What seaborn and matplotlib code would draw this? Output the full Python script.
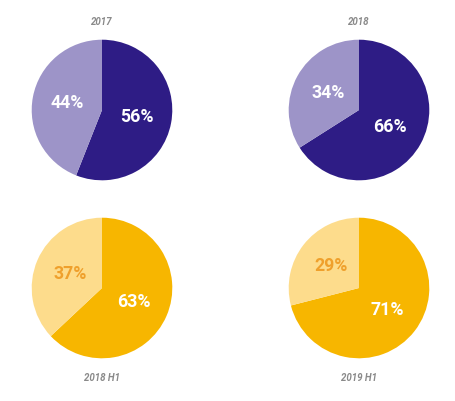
import matplotlib
matplotlib.use('Agg')
import matplotlib.pyplot as plt
import seaborn as sns

sns.set_theme(style='white')
plt.rcParams['font.family'] = ['Roboto', 'DejaVu Sans']

# Données
titles = ['2017', '2018', '2018 H1', '2019 H1']
main_share = [56, 66, 63, 71]
other_share = [44, 34, 37, 29]

purple_dark = '#2e1c85'
purple_light = '#9d94c8'
gold = '#f7b600'
gold_light = '#fddc8c'

slice_colors = [(purple_dark, purple_light), (purple_dark, purple_light),
                (gold, gold_light), (gold, gold_light)]
label_colors = [('white', 'white'), ('white', 'white'),
                ('white', '#efa02c'), ('white', '#efa02c')]

# centres des camemberts en pixels (figure 456x401)
W, H = 456, 401
centers = [(102, 110), (359, 110), (102, 288), (359, 288)]
radius = 71
title_y = [22, 22, 378, 378]

fig = plt.figure(figsize=(4.56, 4.01), dpi=100)

for i in range(4):
    cx, cy = centers[i]
    ax = fig.add_axes([(cx - radius) / W, 1 - (cy + radius) / H,
                       2 * radius / W, 2 * radius / H])
    wedges, texts, autotexts = ax.pie(
        [main_share[i], other_share[i]],
        colors=slice_colors[i],
        startangle=90, counterclock=False,
        autopct='%d%%', pctdistance=0.5,
        wedgeprops=dict(linewidth=0),
        textprops=dict(fontsize=12.8, fontweight='bold'))
    for t, c in zip(autotexts, label_colors[i]):
        t.set_color(c)
    ax.set_xlim(-1.01, 1.01)
    ax.set_ylim(-1.01, 1.01)
    ax.set_aspect('equal')
    ax.axis('off')
    fig.text(cx / W, 1 - title_y[i] / H, titles[i], ha='center', va='center',
             fontsize=7, fontstyle='italic', fontweight='bold', color='#8a8a8a')

plt.savefig('out.png', dpi=100)
